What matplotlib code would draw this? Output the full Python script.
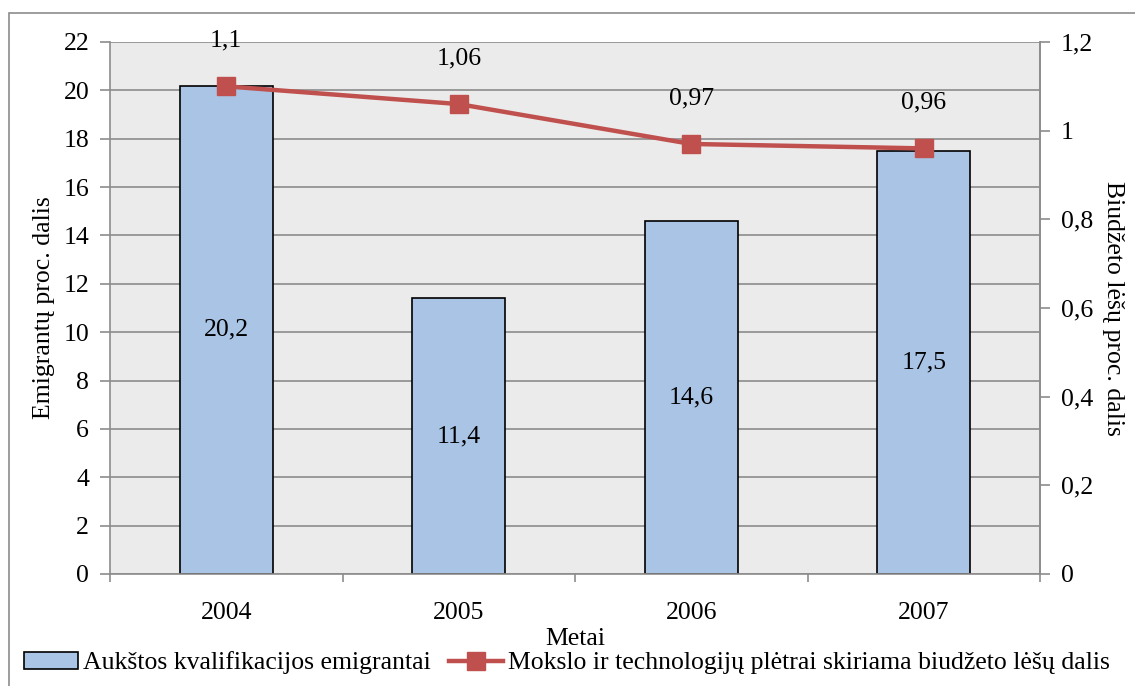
import matplotlib.pyplot as plt
import numpy as np
from matplotlib.patches import Rectangle
from matplotlib.ticker import FuncFormatter

plt.rcParams['font.family'] = ['Liberation Serif', 'DejaVu Serif']

years = ["2004", "2005", "2006", "2007"]
emigrants = [20.2, 11.4, 14.6, 17.5]
budget = [1.1, 1.06, 0.97, 0.96]

bar_label = "Aukštos kvalifikacijos emigrantai"
line_label = "Mokslo ir technologijų plėtrai skiriama biudžeto lėšų dalis"

FS = 18.5

def comma(v, pos=None):
    s = ("%g" % round(v, 2))
    return s.replace(".", ",")

fig = plt.figure(figsize=(11.35, 6.86), dpi=100)
ax = fig.add_axes([110/1135, 1 - 574/686, 930/1135, 532/686])
ax2 = ax.twinx()

# outer chart frame
fig.patches.append(Rectangle((9/1135, -0.1), 1.2, 1 - 13/686 + 0.1,
                             transform=fig.transFigure, fill=False,
                             edgecolor='#8c8c8c', linewidth=1.2))

x = np.arange(len(years))
ax.set_facecolor('#EBEBEB')
bars = ax.bar(x, emigrants, width=0.4, color='#A9C4E5', edgecolor='black',
              linewidth=1.2, label=bar_label, zorder=2)
ax.set_xlim(-0.5, 3.5)
ax.set_ylim(0, 22)
ax.set_yticks(np.arange(0, 23, 2))
ax.grid(axis='y', color='#8c8c8c', linewidth=1.2, zorder=0)
ax.set_axisbelow(True)
ax.set_xticks(x)
ax.set_xticklabels(years, fontsize=FS)
ax.set_xticks(np.arange(-0.5, 4, 1), minor=True)
ax.tick_params(axis='x', which='major', length=0, pad=20)
ax.tick_params(axis='x', which='minor', length=6, color='#8c8c8c', width=1.2)
ax.tick_params(axis='y', labelsize=FS, length=7, color='#8c8c8c', width=1.2, pad=8)
for s in ['top']:
    ax.spines[s].set_visible(False)
for s in ['left', 'bottom', 'right']:
    ax.spines[s].set_color('#8c8c8c')
    ax.spines[s].set_linewidth(1.2)
ax.set_ylabel("Emigrantų proc. dalis", fontsize=FS, labelpad=6)
ax.set_xlabel("Metai", fontsize=FS, labelpad=3)

for xi, v in zip(x, emigrants):
    ax.text(xi, v / 2, comma(v), ha='center', va='center', fontsize=FS, zorder=3)

ax2.plot(x, budget, color='#C0504D', linewidth=3.2, marker='s', markersize=13,
         label=line_label, zorder=4)
ax2.set_ylim(0, 1.2)
ax2.set_yticks(np.arange(0, 1.21, 0.2))
ax2.yaxis.set_major_formatter(FuncFormatter(comma))
ax2.tick_params(axis='y', labelsize=FS, length=7, color='#8c8c8c', width=1.2, pad=8)
for s in ['top', 'left', 'bottom']:
    ax2.spines[s].set_visible(False)
ax2.spines['right'].set_color('#8c8c8c')
ax2.spines['right'].set_linewidth(1.2)
ax2.set_ylabel("Biudžeto lėšų proc. dalis", fontsize=FS, rotation=-90, labelpad=22)

for xi, v in zip(x, budget):
    ax2.annotate(comma(v), (xi, v), xytext=(0, 33), textcoords='offset points',
                 ha='center', va='center', fontsize=FS)

h1, l1 = ax.get_legend_handles_labels()
h2, l2 = ax2.get_legend_handles_labels()
fig.legend(h1 + h2, l1 + l2, loc='center left', bbox_to_anchor=(24/1135, 1 - 663/686),
           ncol=2, frameon=False, fontsize=FS, handlelength=2.1, handletextpad=0.2,
           columnspacing=0.7, borderaxespad=0, borderpad=0)

fig.savefig("out.png", dpi=100)
